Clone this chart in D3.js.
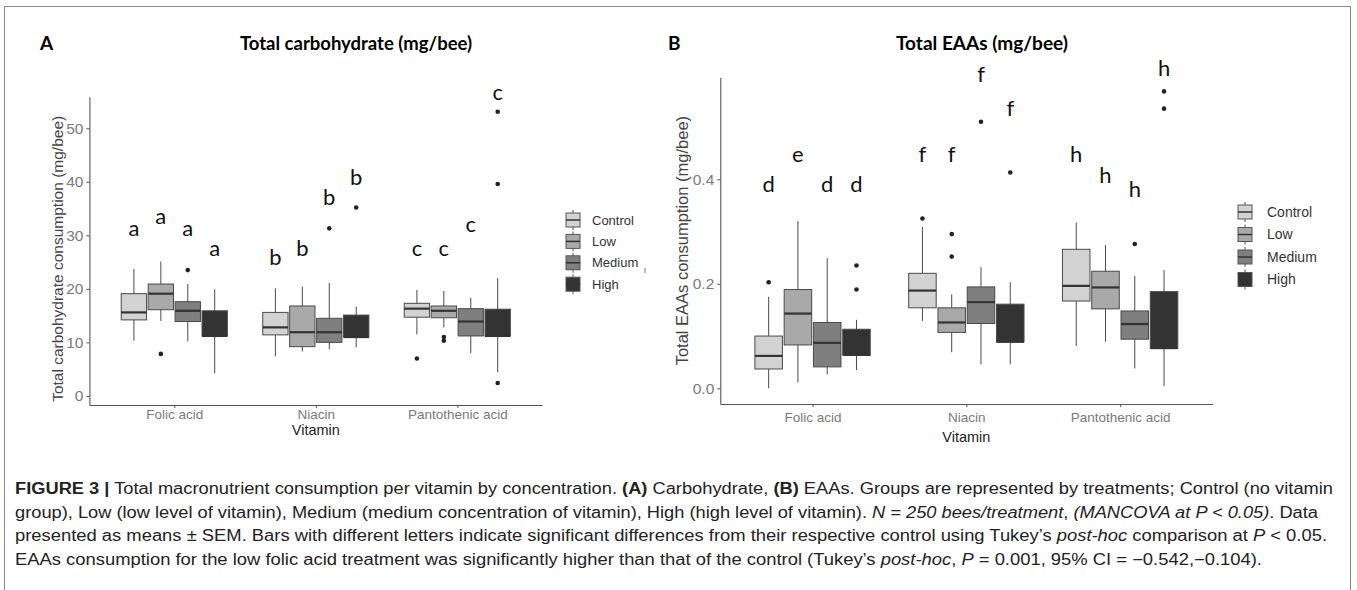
<!DOCTYPE html>
<html>
<head>
<meta charset="utf-8">
<script src="https://d3js.org/d3.v7.min.js"></script>
<style>
  body { margin: 0; background: #fff; }
  svg { display: block; }
</style>
</head>
<body>
<svg id="fig" width="1357" height="590"></svg>
<script>
// categories
var vitamins = ["Folic acid", "Niacin", "Pantothenic acid"];
var treatments = ["Control", "Low", "Medium", "High"];

// panel A: total carbohydrate (order: vitamin x treatment)
var carbLo  = [10.3, 14.0, 10.2, 4.2,  7.4, 8.3, 8.7, 9.1,   11.5, 12.8, 8.0, 4.4];
var carbQ1  = [14.2, 16.1, 13.9, 11.2, 11.4, 9.2, 10.0, 11.0, 14.7, 14.6, 11.2, 11.2];
var carbMed = [15.6, 19.1, 15.9, 11.2, 12.8, 11.9, 11.9, 11.0, 16.3, 15.9, 13.9, 11.2];
var carbQ3  = [19.1, 20.9, 17.6, 15.9, 15.6, 16.8, 14.5, 15.1, 17.3, 16.8, 16.3, 16.2];
var carbHi  = [23.7, 25.1, 20.9, 19.9, 20.1, 20.4, 21.1, 16.7, 19.8, 19.6, 18.3, 22.0];
var carbOutGroup = [1, 2, 6, 7, 8, 9, 9, 11, 11, 11];
var carbOutVal   = [7.85, 23.5, 31.3, 35.2, 7.0, 11.0, 10.3, 2.4, 39.6, 53.1];
var carbLetters  = ["a","a","a","a","b","b","b","b","c","c","c","c"];
var carbLetterY  = [31.4, 33.5, 31.4, 27.5, 25.9, 27.6, 37.1, 40.9, 27.6, 27.6, 32.0, 56.7];
var carbTicks = [0, 10, 20, 30, 40, 50];

// panel B: total EAAs
var eaaLo  = [0.000, 0.011, 0.027, 0.035, 0.129, 0.069, 0.046, 0.046, 0.081, 0.089, 0.038, 0.004];
var eaaQ1  = [0.037, 0.083, 0.041, 0.064, 0.154, 0.107, 0.124, 0.089, 0.167, 0.152, 0.094, 0.077];
var eaaMed = [0.062, 0.143, 0.087, 0.064, 0.187, 0.126, 0.165, 0.089, 0.196, 0.193, 0.123, 0.077];
var eaaQ3  = [0.100, 0.189, 0.126, 0.113, 0.220, 0.154, 0.194, 0.161, 0.266, 0.224, 0.148, 0.185];
var eaaHi  = [0.175, 0.320, 0.249, 0.131, 0.309, 0.180, 0.232, 0.203, 0.317, 0.274, 0.215, 0.226];
var eaaOutGroup = [0, 3, 3, 4, 5, 5, 6, 7, 10, 11, 11];
var eaaOutVal   = [0.203, 0.235, 0.189, 0.325, 0.295, 0.252, 0.510, 0.413, 0.276, 0.568, 0.535];
var eaaLetters  = ["d","e","d","d","f","f","f","f","h","h","h","h"];
var eaaLetterY  = [0.391, 0.448, 0.391, 0.391, 0.447, 0.447, 0.600, 0.536, 0.447, 0.408, 0.380, 0.612];
var eaaTicks = [0.0, 0.2, 0.4];

var fills = ["#d2d2d2", "#a9a9a9", "#7f7f7f", "#333333"];

var svg = d3.select("#fig");

// outer frame
svg.append("rect").attr("x", 4.5).attr("y", 6.5).attr("width", 1346).attr("height", 600)
  .attr("fill", "none").attr("stroke", "#8a8a8a").attr("stroke-width", 1);

function panel(o) {
  var g = svg.append("g");
  var x = d3.scalePoint().domain(vitamins).range([o.left, o.right]).padding(0.6);
  var step = x.step();
  var inner = d3.scaleBand().domain(treatments).range([-0.375 * step, 0.375 * step]).paddingInner(0.06);
  var y = d3.scaleLinear().domain(o.domain).range([o.bottom, o.top]);

  var rows = [];
  vitamins.forEach(function(v, vi) {
    treatments.forEach(function(t, ti) {
      var i = vi * 4 + ti;
      rows.push({v: v, t: t, ti: ti, lo: o.lo[i], q1: o.q1[i], med: o.med[i], q3: o.q3[i], hi: o.hi[i],
        cx: x(v) + inner(t) + inner.bandwidth() / 2, letter: o.letters[i], ly: o.letterY[i]});
    });
  });
  var bw = inner.bandwidth();

  // whiskers
  g.selectAll(".wh").data(rows).enter().append("line")
    .attr("x1", d => d.cx).attr("x2", d => d.cx)
    .attr("y1", d => y(d.hi)).attr("y2", d => y(d.lo))
    .attr("stroke", "#4a4a4a").attr("stroke-width", 1);
  // boxes
  g.selectAll(".bx").data(rows).enter().append("rect")
    .attr("x", d => d.cx - bw / 2).attr("width", bw)
    .attr("y", d => y(d.q3)).attr("height", d => y(d.q1) - y(d.q3))
    .attr("fill", d => fills[d.ti]).attr("stroke", "#4a4a4a").attr("stroke-width", 1);
  // medians
  g.selectAll(".md").data(rows).enter().append("line")
    .attr("x1", d => d.cx - bw / 2).attr("x2", d => d.cx + bw / 2)
    .attr("y1", d => y(d.med)).attr("y2", d => y(d.med))
    .attr("stroke", "#333").attr("stroke-width", 2.2);
  // outliers
  g.selectAll(".ol").data(o.outG.map((gi, k) => ({r: rows[gi], v: o.outV[k]}))).enter().append("circle")
    .attr("cx", d => d.r.cx).attr("cy", d => y(d.v)).attr("r", 2.3).attr("fill", "#222");
  // significance letters
  g.selectAll(".lt").data(rows).enter().append("text")
    .attr("x", d => d.cx).attr("y", d => y(d.ly)).attr("dy", "0.35em")
    .attr("text-anchor", "middle").attr("font-family", "Lato, 'Open Sans', sans-serif")
    .attr("font-size", 22).attr("fill", "#111").text(d => d.letter);

  // axes
  var ya = g.append("g").attr("transform", "translate(" + o.left + ",0)")
    .call(d3.axisLeft(y).tickValues(o.ticks).tickSize(3).tickSizeOuter(0).tickFormat(o.fmt));
  var xa = g.append("g").attr("transform", "translate(0," + o.bottom + ")")
    .call(d3.axisBottom(x).tickSize(3).tickSizeOuter(0));
  [ya, xa].forEach(function(a) {
    a.select(".domain").attr("stroke", "#555").attr("stroke-width", 1.1);
    a.selectAll(".tick line").attr("stroke", "#555");
    a.selectAll("text").attr("fill", "#7a7a7a").attr("font-family", "'Liberation Sans', Arial, sans-serif");
  });
  ya.selectAll("text").attr("font-size", 15.5);
  xa.selectAll("text").attr("font-size", 13.5).attr("dy", "0.9em").attr("y", o.xLabDy);

  g.append("text").attr("transform", "translate(" + o.yTitleX + "," + ((o.top + o.bottom) / 2 + o.yTitleShift) + ") rotate(-90)")
    .attr("text-anchor", "middle").attr("font-family", "'Liberation Sans', Arial, sans-serif")
    .attr("font-size", o.yTitleSize).attr("fill", "#444").text(o.yTitle);
  g.append("text").attr("x", (o.left + o.right) / 2 + o.vitShift).attr("y", o.vitY)
    .attr("text-anchor", "middle").attr("font-family", "'Liberation Sans', sans-serif")
    .attr("font-size", 14.5).attr("fill", "#222").text("Vitamin");

  // panel letter and title
  g.append("text").attr("x", o.tagX).attr("y", 50).attr("font-family", "Lato, sans-serif")
    .attr("font-weight", "bold").attr("font-size", 19).attr("fill", "#000").text(o.tag);
  g.append("text").attr("x", o.titleX).attr("y", 50).attr("text-anchor", "middle").attr("font-family", "Lato, sans-serif")
    .attr("font-weight", "bold").attr("font-size", o.titleSize).attr("fill", "#000").text(o.title);

  // legend
  var lg = g.append("g").attr("transform", "translate(" + o.legX + "," + o.legY + ")");
  treatments.forEach(function(t, i) {
    var k = lg.append("g").attr("transform", "translate(0," + i * o.legStep + ")");
    k.append("line").attr("x1", 7).attr("x2", 7).attr("y1", -10).attr("y2", 10).attr("stroke", "#555");
    k.append("rect").attr("x", 0).attr("y", -7).attr("width", 14).attr("height", 14)
      .attr("fill", fills[i]).attr("stroke", "#555");
    k.append("line").attr("x1", 0).attr("x2", 14).attr("y1", 0).attr("y2", 0).attr("stroke", "#333").attr("stroke-width", 1.5);
    k.append("text").attr("x", o.legTextDx).attr("y", 0).attr("dy", "0.35em")
      .attr("font-family", "'Liberation Sans', Arial, sans-serif").attr("font-size", o.legSize)
      .attr("fill", "#333").text(t);
  });
}

panel({
  left: 89.4, right: 542.2, top: 96.7, bottom: 405, domain: [-1.7, 55.9],
  lo: carbLo, q1: carbQ1, med: carbMed, q3: carbQ3, hi: carbHi,
  outG: carbOutGroup, outV: carbOutVal, letters: carbLetters, letterY: carbLetterY,
  ticks: carbTicks, fmt: d3.format("d"), xLabDy: 2,
  yTitle: "Total carbohydrate consumption (mg/bee)", yTitleX: 63, yTitleShift: 8, yTitleSize: 15.5,
  vitY: 435, vitShift: 0,
  tag: "A", tagX: 40, title: "Total carbohydrate (mg/bee)", titleX: 356, titleSize: 18.5,
  legX: 566, legY: 220, legStep: 21.4, legTextDx: 26, legSize: 13
});

panel({
  left: 720.3, right: 1212.4, top: 77.3, bottom: 404, domain: [-0.030, 0.595],
  lo: eaaLo, q1: eaaQ1, med: eaaMed, q3: eaaQ3, hi: eaaHi,
  outG: eaaOutGroup, outV: eaaOutVal, letters: eaaLetters, letterY: eaaLetterY,
  ticks: eaaTicks, fmt: d3.format(".1f"), xLabDy: 6,
  yTitle: "Total EAAs consumption (mg/bee)", yTitleX: 688, yTitleShift: 0, yTitleSize: 16.5,
  vitY: 442, vitShift: 0,
  tag: "B", tagX: 668, title: "Total EAAs (mg/bee)", titleX: 982, titleSize: 19,
  legX: 1238, legY: 212, legStep: 22.5, legTextDx: 29, legSize: 14
});

// stray mark near legend A
svg.append("line").attr("x1", 645).attr("x2", 645).attr("y1", 268).attr("y2", 273).attr("stroke", "#777");

// caption: condensed face in the original, so each line is squeezed to its width
var capLines = [
  [["FIGURE 3 |", "b"], [" Total macronutrient consumption per vitamin by concentration. ", ""], ["(A)", "b"], [" Carbohydrate, ", ""], ["(B)", "b"], [" EAAs. Groups are represented by treatments; Control (no vitamin", ""]],
  [["group), Low (low level of vitamin), Medium (medium concentration of vitamin), High (high level of vitamin). ", ""], ["N = 250 bees/treatment", "i"], [", ", ""], ["(MANCOVA at P < 0.05)", "i"], [". Data", ""]],
  [["presented as means \u00b1 SEM. Bars with different letters indicate significant differences from their respective control using Tukey\u2019s ", ""], ["post-hoc", "i"], [" comparison at ", ""], ["P", "i"], [" < 0.05.", ""]],
  [["EAAs consumption for the low folic acid treatment was significantly higher than that of the control (Tukey\u2019s ", ""], ["post-hoc", "i"], [", ", ""], ["P", "i"], [" = 0.001, 95% CI = \u22120.542,\u22120.104).", ""]]
];
var capWidths = [1318, 1303, 1312, 1247];
capLines.forEach(function(line, li) {
  var t = svg.append("text").attr("x", 15).attr("y", 494 + li * 23.7)
    .attr("font-family", "'Liberation Sans', Arial, sans-serif")
    .attr("font-size", 16).attr("fill", "#222")
    .attr("textLength", capWidths[li]).attr("lengthAdjust", "spacingAndGlyphs");
  line.forEach(function(seg) {
    var ts = t.append("tspan").text(seg[0]);
    if (seg[1] === "b") ts.attr("font-weight", "bold");
    if (seg[1] === "i") ts.attr("font-style", "italic");
  });
});
</script>
</body>
</html>
